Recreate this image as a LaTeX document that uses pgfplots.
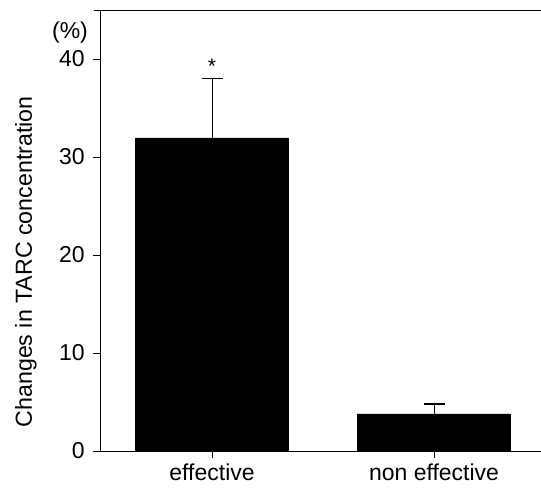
\documentclass[border=0pt]{standalone}
\usepackage{pgfplots}
\pgfplotsset{compat=1.18}
\usepackage{fontspec}
\setmainfont{Liberation Sans}
\usetikzlibrary{calc}

\begin{document}
\fontsize{23bp}{27bp}\selectfont
\begin{tikzpicture}
\begin{axis}[
  name=ax,
  scale only axis,
  width=441bp, height=441bp,
  xmin=-0.505, xmax=1.482,
  ymin=0, ymax=45,
  axis lines*=left,
  axis line style={line width=0.8bp},
  tick style={line width=0.8bp, black},
  tick align=outside,
  major tick length=7bp,
  ytick={0,10,20,30,40},
  xtick={0,1},
  xticklabels={effective, non effective},
  /pgf/number format/assume math mode=true,
  ticklabel style={font=\fontsize{23bp}{27bp}\selectfont},
  yticklabel style={xshift=-0.5bp},
  xticklabel style={yshift=-5bp, inner sep=0.5bp},
  ylabel={Changes in TARC concentration},
  ylabel style={at={(axis description cs:-0.168,0.429)}, anchor=center, font=\fontsize{23.2bp}{27bp}\selectfont},
  clip=false,
]
\addplot[ybar, bar width=0.69, bar shift=0pt, fill=black, draw=black,
  error bars/.cd, y dir=plus, y explicit,
  error bar style={line width=1bp, black},
  error mark options={rotate=90, mark size=10.5bp, line width=1.2bp}]
  coordinates {(0,31.95) +- (0,6.1) (1,3.78) +- (0,1.02)};
\draw[line width=0.8bp, shorten <=-6bp] (rel axis cs:0,1) -- (rel axis cs:1,1);
\node[font=\fontsize{21bp}{24bp}\selectfont] at (axis cs:0,39.3) {*};
\node[anchor=center] at (axis description cs:-0.068,0.948) {(\%)};
\end{axis}
\pgfresetboundingbox
\path ($(ax.south west)+(-100bp,-37bp)$) rectangle ($(ax.north east)+(0bp,10bp)$);
\end{tikzpicture}
\end{document}
